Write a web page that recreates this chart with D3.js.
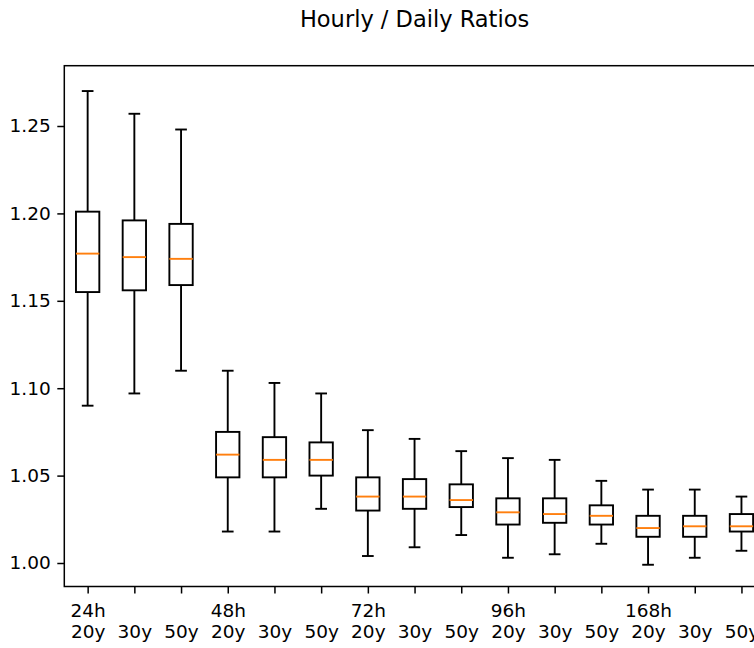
<!DOCTYPE html>
<html>
<head>
<meta charset="utf-8">
<script src="https://cdn.jsdelivr.net/npm/d3@7"></script>
<style>
  html, body { margin: 0; padding: 0; background: #fff; overflow: hidden; }
  svg { display: block; font-family: 'DejaVu Sans', sans-serif; }
</style>
</head>
<body>
<svg id="chart"></svg>
<script>
'use strict';

let WIDTH = 800;
let HEIGHT = 648;

// box groups and sub labels
let GROUPS = ['24h', '48h', '72h', '96h', '168h'];
let PERIODS = ['20y', '30y', '50y'];

// box stats, one per box
let LOW    = [1.090, 1.097, 1.110, 1.018, 1.018, 1.031, 1.004, 1.009, 1.016, 1.003, 1.005, 1.011, 0.999, 1.003, 1.007];
let Q1     = [1.155, 1.156, 1.159, 1.049, 1.049, 1.050, 1.030, 1.031, 1.032, 1.022, 1.023, 1.022, 1.015, 1.015, 1.018];
let MEDIAN = [1.177, 1.175, 1.174, 1.062, 1.059, 1.059, 1.038, 1.038, 1.036, 1.029, 1.028, 1.027, 1.020, 1.021, 1.021];
let Q3     = [1.201, 1.196, 1.194, 1.075, 1.072, 1.069, 1.049, 1.048, 1.045, 1.037, 1.037, 1.033, 1.027, 1.027, 1.028];
let HIGH   = [1.270, 1.257, 1.248, 1.110, 1.103, 1.097, 1.076, 1.071, 1.064, 1.060, 1.059, 1.047, 1.042, 1.042, 1.038];

let Y_TICKS = [1.00, 1.05, 1.10, 1.15, 1.20, 1.25];

let COLOR = {
    BOX: '#000000',
    MEDIAN: '#ff7f0e'
};

let boxes = [];
GROUPS.forEach(function(g, gi) {
    PERIODS.forEach(function(p, pi) {
        let i = gi * PERIODS.length + pi;
        boxes.push({
            pos: i + 1,
            group: g,
            period: p,
            first: pi === 0,
            low: LOW[i], q1: Q1[i], med: MEDIAN[i], q3: Q3[i], high: HIGH[i]
        });
    });
});

let plot = { left: 64.3, top: 65.7, bottom: 586.5 };

let svg = d3.select('#chart').attr('width', WIDTH).attr('height', HEIGHT);

let x = d3.scaleLinear()
    .domain([0.5, boxes.length + 0.5])
    .range([plot.left, plot.left + 46.7 * boxes.length]);

let y = d3.scaleLinear()
    .domain([0.98656, 1.2845])
    .range([plot.bottom, plot.top]);

let boxW = x(1.25) - x(1);   // half width of box (0.5 units wide)
let capW = boxW / 2;

// title
svg.append('text')
    .attr('x', (x.range()[0] + x.range()[1]) / 2)
    .attr('y', 27)
    .attr('text-anchor', 'middle')
    .attr('font-size', '22.5px')
    .attr('fill', '#000')
    .text('Hourly / Daily Ratios');

// boxes
let g = svg.append('g');
let bx = g.selectAll('g.box')
    .data(boxes)
    .enter()
    .append('g')
    .attr('class', 'box');

// whiskers
bx.append('line')
    .attr('x1', function(d) { return x(d.pos); })
    .attr('x2', function(d) { return x(d.pos); })
    .attr('y1', function(d) { return y(d.q3); })
    .attr('y2', function(d) { return y(d.high); })
    .attr('stroke', COLOR.BOX).attr('stroke-width', 1.9);
bx.append('line')
    .attr('x1', function(d) { return x(d.pos); })
    .attr('x2', function(d) { return x(d.pos); })
    .attr('y1', function(d) { return y(d.q1); })
    .attr('y2', function(d) { return y(d.low); })
    .attr('stroke', COLOR.BOX).attr('stroke-width', 1.9);

// caps
bx.append('line')
    .attr('x1', function(d) { return x(d.pos) - capW; })
    .attr('x2', function(d) { return x(d.pos) + capW; })
    .attr('y1', function(d) { return y(d.high); })
    .attr('y2', function(d) { return y(d.high); })
    .attr('stroke', COLOR.BOX).attr('stroke-width', 1.9);
bx.append('line')
    .attr('x1', function(d) { return x(d.pos) - capW; })
    .attr('x2', function(d) { return x(d.pos) + capW; })
    .attr('y1', function(d) { return y(d.low); })
    .attr('y2', function(d) { return y(d.low); })
    .attr('stroke', COLOR.BOX).attr('stroke-width', 1.9);

// box body
bx.append('rect')
    .attr('x', function(d) { return x(d.pos) - boxW; })
    .attr('y', function(d) { return y(d.q3); })
    .attr('width', boxW * 2)
    .attr('height', function(d) { return y(d.q1) - y(d.q3); })
    .attr('fill', 'none')
    .attr('stroke', COLOR.BOX).attr('stroke-width', 1.9);

// median
bx.append('line')
    .attr('x1', function(d) { return x(d.pos) - boxW; })
    .attr('x2', function(d) { return x(d.pos) + boxW; })
    .attr('y1', function(d) { return y(d.med); })
    .attr('y2', function(d) { return y(d.med); })
    .attr('stroke', COLOR.MEDIAN).attr('stroke-width', 1.9);

// y axis
let yAxis = svg.append('g')
    .attr('transform', 'translate(' + plot.left + ',0)')
    .call(d3.axisLeft(y).tickValues(Y_TICKS).tickFormat(d3.format('.2f')).tickSize(7).tickPadding(6.5));
yAxis.select('.domain').remove();
yAxis.selectAll('.tick line').attr('stroke', '#000').attr('stroke-width', 1.5);
yAxis.selectAll('.tick text')
    .attr('font-size', '18.5px')
    .attr('font-family', "'DejaVu Sans', sans-serif")
    .attr('fill', '#000');

// x axis
let xAxis = svg.append('g')
    .attr('transform', 'translate(0,' + plot.bottom + ')')
    .call(d3.axisBottom(x).tickValues(boxes.map(function(d) { return d.pos; })).tickSize(7).tickFormat(''));
xAxis.select('.domain').remove();
xAxis.selectAll('.tick line').attr('stroke', '#000').attr('stroke-width', 1.5);
xAxis.selectAll('.tick').each(function(p) {
    let d = boxes[p - 1];
    let t = d3.select(this).select('text')
        .attr('y', 0)
        .attr('dy', null)
        .attr('font-size', '18.5px')
        .attr('font-family', "'DejaVu Sans', sans-serif")
        .attr('fill', '#000')
        .attr('text-anchor', 'middle');
    if (d.first) {
        t.append('tspan').attr('x', 0).attr('y', 30.5).text(d.group);
    }
    t.append('tspan').attr('x', 0).attr('y', 51.5).text(d.period);
});

// spines
let right = x.range()[1];
svg.append('rect')
    .attr('x', plot.left)
    .attr('y', plot.top)
    .attr('width', right - plot.left)
    .attr('height', plot.bottom - plot.top)
    .attr('fill', 'none')
    .attr('stroke', '#000')
    .attr('stroke-width', 1.5);
</script>
</body>
</html>
